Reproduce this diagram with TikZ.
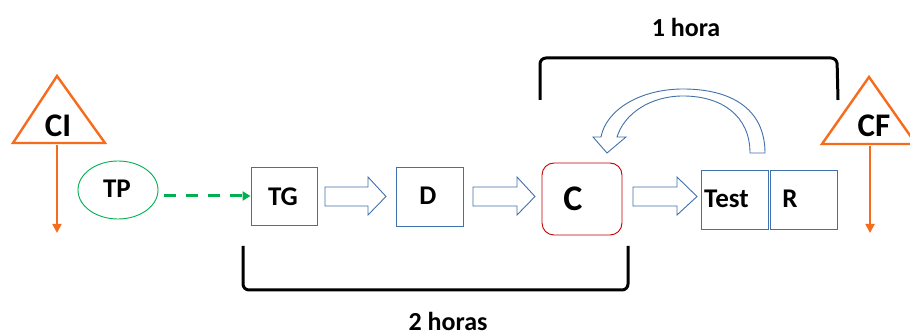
\documentclass[tikz,border=0pt]{standalone}
\usepackage{fontspec}
\setmainfont{Carlito}
\usetikzlibrary{arrows.meta,shapes.geometric}
\definecolor{boxblue}{RGB}{65,113,170}
\definecolor{orng}{RGB}{247,107,28}
\definecolor{grn}{RGB}{0,176,80}
\definecolor{redc}{RGB}{192,0,0}
\tikzset{
  lbl/.style={font=\bfseries\fontsize{#1}{#1}\selectfont, inner sep=0pt},
  sqbox/.style={draw=boxblue, line width=0.9pt, inner sep=0pt},
  blockarrow/.style={draw=boxblue, line width=0.9pt, fill=white},
  tri/.style={draw=orng, line width=2.4pt, line join=miter},
  orarrow/.style={draw=orng, line width=1.8pt, -{Triangle[length=9pt,width=9pt]}},
  bracket/.style={draw=black, line width=3pt, rounded corners=6pt},
}
\begin{document}
\begin{tikzpicture}[x=1pt,y=-1pt]
\useasboundingbox (0,0) rectangle (910,336);
% CI triangle
\draw[tri] (57,76) -- (105,143) -- (13,143) -- cycle;
\node[lbl=33] (ci) at (58,126) {CI};
\coordinate (ciBase) at (57,145);
\coordinate (ciEnd) at (57,233);
\draw[orarrow] (ciBase) -- (ciEnd);
% CF triangle
\draw[tri] (869,77) -- (916,144) -- (822,144) -- cycle;
\node[lbl=33] (cf) at (874,126) {CF};
\coordinate (cfBase) at (870,146);
\coordinate (cfEnd) at (870,233);
\draw[orarrow] (cfBase) -- (cfEnd);
% TP
\node[draw=grn, line width=0.9pt, ellipse, minimum width=80pt, minimum height=58pt, inner sep=0pt] (tp) at (118,190) {};
\node[lbl=27] at (117,189) {TP};
% boxes
\node[sqbox, minimum width=66pt, minimum height=58pt] (tg) at (284,196) {};
\node[lbl=27] at (283,197) {TG};
\node[sqbox, minimum width=67pt, minimum height=59pt] (d) at (429.5,196.5) {};
\node[lbl=27] at (428,196) {D};
\node[draw=redc, line width=0.9pt, rounded corners=12pt, minimum width=80pt, minimum height=72pt, inner sep=0pt] (c) at (582,199) {};
\node[lbl=36] at (573,199) {C};
\node[sqbox, minimum width=67pt, minimum height=59pt] (test) at (734.5,199.5) {};
\node[lbl=27, anchor=west] at (704,199) {Test};
\node[sqbox, minimum width=67pt, minimum height=59pt] (r) at (803.5,199.5) {};
\node[lbl=27] at (790,199) {R};
% dashed arrow
\draw[grn, line width=3pt, dash pattern=on 12pt off 10pt, -{Triangle[length=8pt,width=9pt]}] (tp.east) ++(6,6) coordinate (tps) -- (tg.west |- tps);
% block arrows
\draw[blockarrow] (325,187) -- (368,187) -- (368,177) -- (386,196.5) -- (368,215) -- (368,206) -- (325,206) -- cycle;
\draw[blockarrow] (473,187) -- (517,187) -- (517,177) -- (535,196.5) -- (517,215) -- (517,206) -- (473,206) -- cycle;
\draw[blockarrow] (633,187) -- (677,187) -- (677,177) -- (697,196.5) -- (677,215) -- (677,206) -- (633,206) -- cycle;
% curved return arrow
\draw[blockarrow] (765,153) .. controls (765,108) and (730,89) .. (683,89)
  .. controls (640,89) and (606,110) .. (601,137) -- (593,137) -- (607,153) -- (626,137) -- (617,137)
  .. controls (624,114) and (650,96) .. (683,96)
  .. controls (722,96) and (750,116) .. (750,153) -- cycle;
% brackets
\coordinate (b1a) at (540,100);
\coordinate (b1b) at (838,100);
\draw[bracket] (b1a) -- (540,58) -- (837,58) -- (b1b);
\node[lbl=26] (h1) at (686,27) {1 hora};
\coordinate (b2a) at (243,246);
\coordinate (b2b) at (628,246);
\draw[bracket] (b2a) -- (243,290) -- (628,290) -- (b2b);
\node[lbl=26] (h2) at (448,321) {2 horas};
\end{tikzpicture}
\end{document}
